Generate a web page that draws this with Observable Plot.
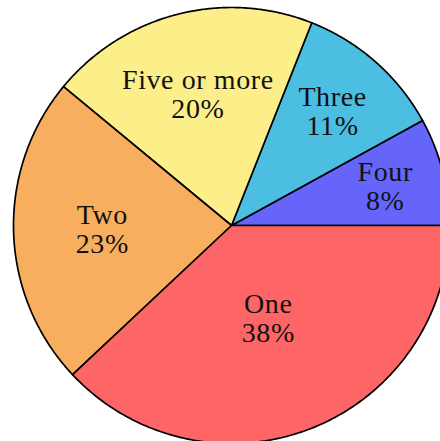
<!DOCTYPE html>
<html>
<head>
<meta charset="utf-8">
<script src="https://cdn.jsdelivr.net/npm/d3@7"></script>
<script src="https://cdn.jsdelivr.net/npm/@observablehq/plot@0.6"></script>
<style>
  html, body { margin: 0; padding: 0; background: white; overflow: hidden; }
  #chart svg text { letter-spacing: 0.6px; }
</style>
</head>
<body>
<div id="chart"></div>
<script>
// Data
const categories = ["Four", "Three", "Five or more", "Two", "One"];
const percents = [8, 11, 20, 23, 38];
const sliceColors = ["#6565fc", "#4bbee1", "#fcee88", "#f7af5f", "#fe6566"];

// Geometry (in units of the pie radius)
const W = 440, H = 441;
const R = 218;            // pixel radius
const cx = 231, cy = 225; // pixel centre

const pie = d3.pie().sort(null).value(d => d.value)
  .startAngle(Math.PI / 2).endAngle(Math.PI / 2 - 2 * Math.PI);
const arcs = pie(categories.map((c, i) => ({category: c, value: percents[i], color: sliceColors[i]})));

const N = 180;
const slices = arcs.map(a => {
  const pts = [{x: 0, y: 0}];
  for (let k = 0; k <= N; k++) {
    const t = a.startAngle + (a.endAngle - a.startAngle) * k / N;
    pts.push({x: Math.sin(t), y: Math.cos(t)});
  }
  return {color: a.data.color, points: pts};
});

const labels = arcs.map(a => {
  const mid = (a.startAngle + a.endAngle) / 2;
  const r = 0.8 - 0.009 * a.data.value;
  return {x: r * Math.sin(mid), y: r * Math.cos(mid), text: `${a.data.category}\n${a.data.value}%`};
});

const chart = Plot.plot({
  width: W,
  height: H,
  margin: 0,
  x: {domain: [-cx / R, (W - cx) / R], axis: null},
  y: {domain: [-(H - cy) / R, cy / R], axis: null},
  style: {background: "white", fontFamily: "'Liberation Serif', 'DejaVu Serif', serif"},
  marks: [
    ...slices.map(s => Plot.line(s.points, {
      x: "x", y: "y", curve: "linear-closed",
      fill: s.color, stroke: "black", strokeWidth: 1.7, strokeLinejoin: "round"
    })),
    Plot.text(labels, {x: "x", y: "y", text: "text", fontSize: 28, lineHeight: 1.04, fill: "#111111"})
  ]
});
document.getElementById("chart").appendChild(chart);
</script>
</body>
</html>
